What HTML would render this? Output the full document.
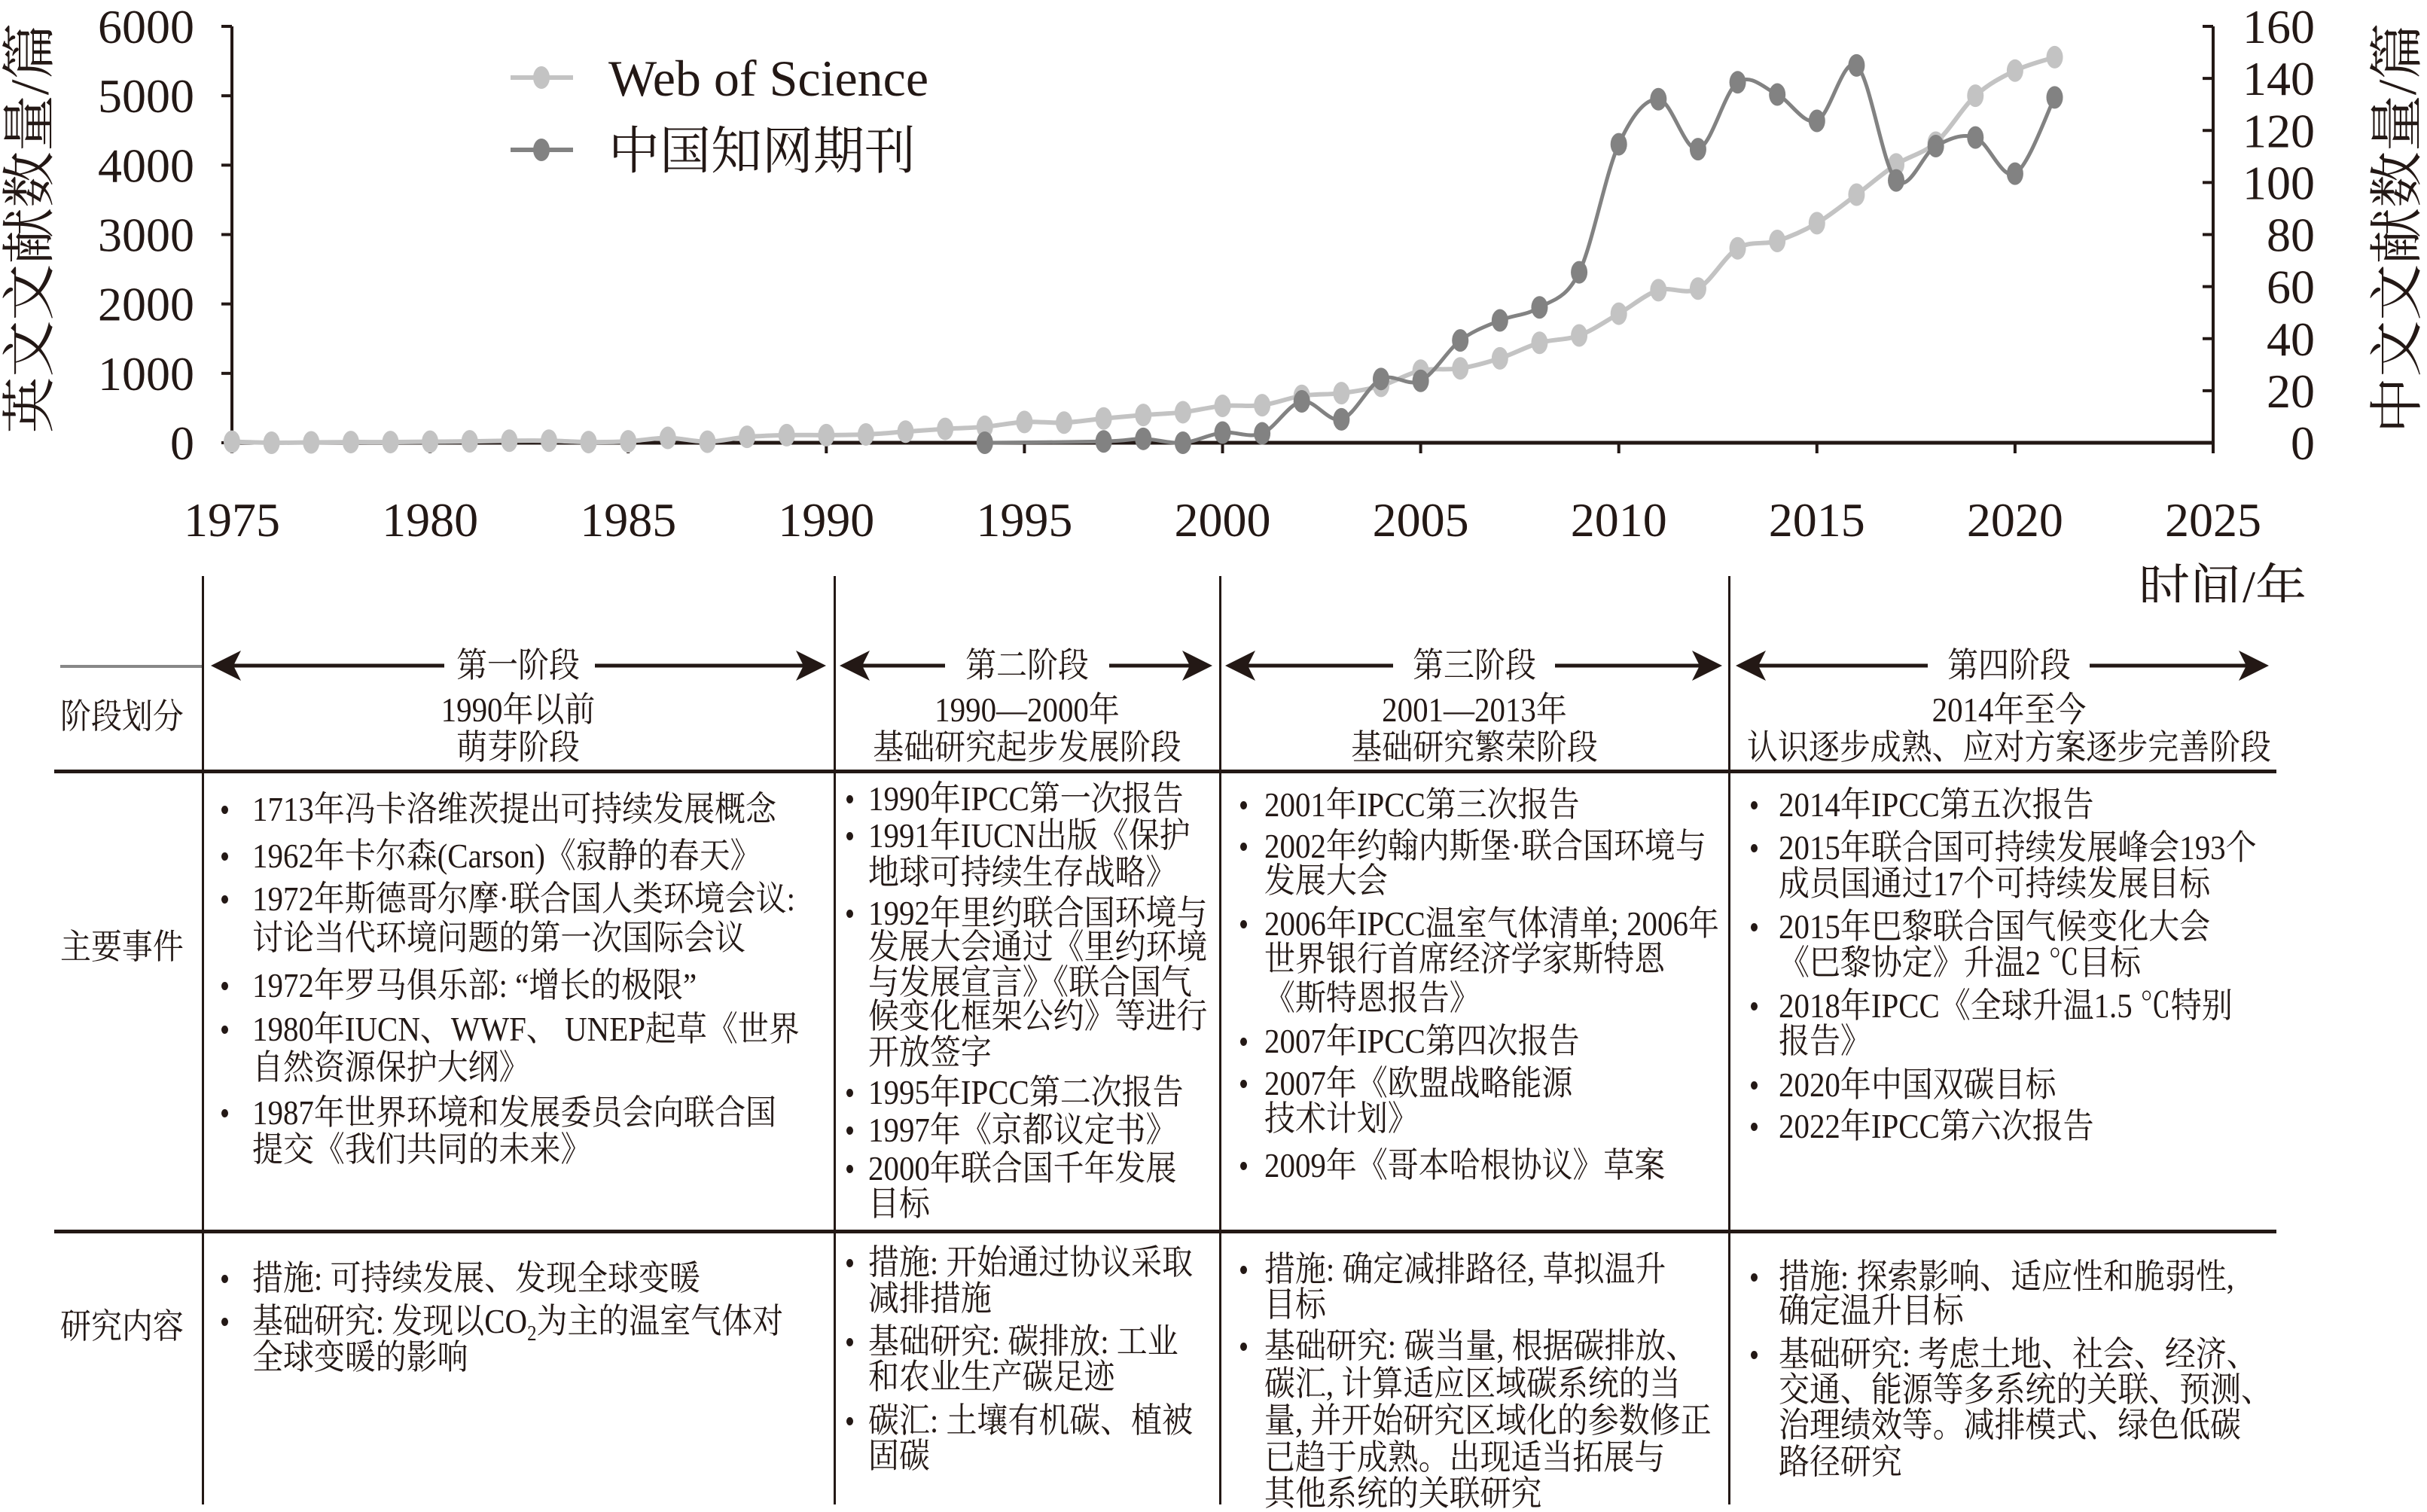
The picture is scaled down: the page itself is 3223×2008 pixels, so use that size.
<!DOCTYPE html>
<html><head><meta charset="utf-8">
<style>
body{margin:0;background:#fff;}
#wrap{position:relative;width:3223px;height:2008px;overflow:hidden;background:#fff;font-family:"Liberation Serif","Noto Serif CJK SC",serif;color:#231815;}
.t{position:absolute;font-size:46px;line-height:46px;white-space:nowrap;transform:scaleX(.89);transform-origin:0 50%;}
.c{position:absolute;font-size:46px;line-height:46px;white-space:nowrap;transform:translateX(-50%) scaleX(.89);}
.b{position:absolute;width:9px;height:11px;border-radius:50%;background:#231815;}
.hl{position:absolute;height:5px;background:#231815;left:72px;width:2951px;}
.vl{position:absolute;width:3px;background:#231815;top:765px;height:1233px;}
svg text{font-family:"Liberation Serif","Noto Serif CJK SC",serif;fill:#231815;}
</style></head><body>
<div id="wrap">
<svg id="chart" width="3223" height="800" style="position:absolute;left:0;top:0">
  <g id="axes"></g>
  <g id="series"></g>
  <g>
    <line x1="678" y1="103" x2="761" y2="103" stroke="#c3c3c3" stroke-width="6"/>
    <ellipse cx="719" cy="103" rx="11" ry="15" fill="#c3c3c3"/>
    <text x="808" y="127" font-size="68">Web of Science</text>
    <line x1="678" y1="199" x2="761" y2="199" stroke="#828282" stroke-width="6"/>
    <ellipse cx="719" cy="199" rx="11" ry="15" fill="#828282"/>
    <text x="808" y="224" font-size="68">中国知网期刊</text>
  </g>
  <text transform="translate(64,303) rotate(-90)" text-anchor="middle" font-size="72" textLength="545" lengthAdjust="spacingAndGlyphs">英文文献数量/篇</text>
  <text transform="translate(3208,303) rotate(-90)" text-anchor="middle" font-size="72" textLength="545" lengthAdjust="spacingAndGlyphs">中文文献数量/篇</text>
  <text x="3063" y="805" text-anchor="end" font-size="68">时间/年</text>
</svg>
<script>
const years=[1975,1976,1977,1978,1979,1980,1981,1982,1983,1984,1985,1986,1987,1988,1989,1990,1991,1992,1993,1994,1995,1996,1997,1998,1999,2000,2001,2002,2003,2004,2005,2006,2007,2008,2009,2010,2011,2012,2013,2014,2015,2016,2017,2018,2019,2020,2021];
const wosValues=[15,0,5,10,10,15,20,30,30,10,20,70,15,85,110,110,120,160,200,230,300,290,350,400,440,531,541,676,715,821,1039,1072,1217,1440,1546,1860,2198,2222,2802,2908,3164,3575,4010,4324,5000,5362,5556];
const cnkiYears=[1994,1997,1998,1999,2000,2001,2002,2003,2004,2005,2006,2007,2008,2009,2010,2011,2012,2013,2014,2015,2016,2017,2018,2019,2020,2021];
const cnkiValues=[0,0.5,1.5,0,3.9,3.6,15.9,9,24.5,23.8,39.3,47,52,65.5,114.7,132,112.8,138.5,133.8,123.7,145,100.8,114,117.3,103.4,132.7];
const xTicks=[1975,1980,1985,1990,1995,2000,2005,2010,2015,2020,2025];
const leftTicks=[0,1000,2000,3000,4000,5000,6000];
const rightTicks=[0,20,40,60,80,100,120,140,160];

const X0=308,X1=2939,Y0=588,YT=35;
function xs(y){return X0+(y-1975)*(X1-X0)/50;}
function yl(v){return Y0-v*(Y0-YT)/6000;}
function yr(v){return Y0-v*(Y0-YT)/160;}
const NS='http://www.w3.org/2000/svg';
const axes=document.getElementById('axes'), series=document.getElementById('series');
function mk(tag,attrs,parent){const e=document.createElementNS(NS,tag);for(const k in attrs)e.setAttribute(k,attrs[k]);parent.appendChild(e);return e;}

let e;
e=mk('line',{x1:X0,y1:YT,x2:X0,y2:Y0,stroke:'#231815','stroke-width':4},axes);


e=mk('line',{x1:X1,y1:YT,x2:X1,y2:Y0,stroke:'#231815','stroke-width':4},axes);


leftTicks.forEach(v=>{
  const t=mk('line',{x1:X0-14,y1:yl(v),x2:X0,y2:yl(v),stroke:'#231815','stroke-width':4},axes);
  
  
  const l=mk('text',{x:258,y:yl(v)+22,'text-anchor':'end','font-size':64},axes);
  l.textContent=v;
  
  
});
rightTicks.forEach(v=>{
  const t=mk('line',{x1:X1-14,y1:yr(v),x2:X1,y2:yr(v),stroke:'#231815','stroke-width':4},axes);
  
  
  const l=mk('text',{x:3074,y:yr(v)+22,'text-anchor':'end','font-size':64},axes);
  l.textContent=v;
  
  
});
xTicks.forEach(y=>{
  const t=mk('line',{x1:xs(y),y1:Y0,x2:xs(y),y2:Y0+14,stroke:'#231815','stroke-width':4},axes);
  
  
  const l=mk('text',{x:xs(y),y:712,'text-anchor':'middle','font-size':64},axes);
  l.textContent=y;
  
  
});
function smooth(pts){
  let d='M'+pts[0][0]+','+pts[0][1];
  for(let i=0;i<pts.length-1;i++){
    const p0=pts[i-1]||pts[i],p1=pts[i],p2=pts[i+1],p3=pts[i+2]||p2;
    const c1=[p1[0]+(p2[0]-p0[0])/6,p1[1]+(p2[1]-p0[1])/6];
    const c2=[p2[0]-(p3[0]-p1[0])/6,p2[1]-(p3[1]-p1[1])/6];
    d+=' C'+c1[0]+','+c1[1]+' '+c2[0]+','+c2[1]+' '+p2[0]+','+p2[1];
  }
  return d;
}
const wosPts=years.map((y,i)=>[xs(y),yl(wosValues[i])]);
e=mk('path',{d:smooth(wosPts),fill:'none',stroke:'#c3c3c3','stroke-width':6},series);


wosPts.forEach(p=>{
  const m=mk('ellipse',{cx:p[0],cy:p[1],rx:11,ry:15,fill:'#c3c3c3'},series);
  
  
});
const cnkiPts=cnkiYears.map((y,i)=>[xs(y),yr(cnkiValues[i])]);
e=mk('path',{d:smooth(cnkiPts),fill:'none',stroke:'#828282','stroke-width':5},series);


cnkiPts.forEach(p=>{
  const m=mk('ellipse',{cx:p[0],cy:p[1],rx:11,ry:15,fill:'#828282'},series);
  
  
});
e=mk('line',{x1:X0,y1:Y0,x2:X1,y2:Y0,stroke:'#231815','stroke-width':5},axes);


</script>

<div>
<div class="vl" style="left:268px"></div>
<div class="vl" style="left:1107px"></div>
<div class="vl" style="left:1619px"></div>
<div class="vl" style="left:2295px"></div>
<div class="hl" style="top:1022px"></div>
<div class="hl" style="top:1633px"></div>
<div style="position:absolute;left:80px;top:883px;width:188px;height:4px;background:#888"></div>

<svg width="3223" height="40" style="position:absolute;left:0;top:864px">
  <defs><marker id="ah" markerWidth="8" markerHeight="8" refX="7" refY="4" orient="auto-start-reverse" markerUnits="strokeWidth"><path d="M0,0 L8,4 L0,8 L2,4 Z" fill="#231815"/></marker></defs>
  <line x1="285" y1="20" x2="590" y2="20" stroke="#231815" stroke-width="5" marker-start="url(#ah)"/>
  <line x1="790" y1="20" x2="1092" y2="20" stroke="#231815" stroke-width="5" marker-end="url(#ah)"/>
  <line x1="1120" y1="20" x2="1255" y2="20" stroke="#231815" stroke-width="5" marker-start="url(#ah)"/>
  <line x1="1473" y1="20" x2="1605" y2="20" stroke="#231815" stroke-width="5" marker-end="url(#ah)"/>
  <line x1="1632" y1="20" x2="1850" y2="20" stroke="#231815" stroke-width="5" marker-start="url(#ah)"/>
  <line x1="2065" y1="20" x2="2282" y2="20" stroke="#231815" stroke-width="5" marker-end="url(#ah)"/>
  <line x1="2310" y1="20" x2="2560" y2="20" stroke="#231815" stroke-width="5" marker-start="url(#ah)"/>
  <line x1="2775" y1="20" x2="3008" y2="20" stroke="#231815" stroke-width="5" marker-end="url(#ah)"/>
</svg>

<div class="t" style="left:80px;top:929px">阶段划分</div>
<div class="t" style="left:80px;top:1235px">主要事件</div>
<div class="t" style="left:80px;top:1739px">研究内容</div>

<div class="c" style="left:688px;top:861px">第一阶段</div>
<div class="c" style="left:688px;top:920px">1990年以前</div>
<div class="c" style="left:688px;top:970px">萌芽阶段</div>
<div class="c" style="left:1364px;top:861px">第二阶段</div>
<div class="c" style="left:1364px;top:920px">1990—2000年</div>
<div class="c" style="left:1364px;top:970px">基础研究起步发展阶段</div>
<div class="c" style="left:1958px;top:861px">第三阶段</div>
<div class="c" style="left:1958px;top:920px">2001—2013年</div>
<div class="c" style="left:1958px;top:970px">基础研究繁荣阶段</div>
<div class="c" style="left:2668px;top:861px">第四阶段</div>
<div class="c" style="left:2668px;top:920px">2014年至今</div>
<div class="c" style="left:2668px;top:970px">认识逐步成熟、应对方案逐步完善阶段</div>

<div>
<div class="b" style="left:294px;top:1070px"></div><div class="t" style="left:335px;top:1052px">1713年冯卡洛维茨提出可持续发展概念</div>
<div class="b" style="left:294px;top:1132px"></div><div class="t" style="left:335px;top:1114px">1962年卡尔森(Carson)《寂静的春天》</div>
<div class="b" style="left:294px;top:1189px"></div><div class="t" style="left:335px;top:1171px">1972年斯德哥尔摩·联合国人类环境会议:</div>
<div class="t" style="left:335px;top:1223px">讨论当代环境问题的第一次国际会议</div>
<div class="b" style="left:294px;top:1304px"></div><div class="t" style="left:335px;top:1286px">1972年罗马俱乐部: “增长的极限”</div>
<div class="b" style="left:294px;top:1362px"></div><div class="t" style="left:335px;top:1344px">1980年IUCN、WWF、 UNEP起草《世界</div>
<div class="t" style="left:335px;top:1395px">自然资源保护大纲》</div>
<div class="b" style="left:294px;top:1473px"></div><div class="t" style="left:335px;top:1455px">1987年世界环境和发展委员会向联合国</div>
<div class="t" style="left:335px;top:1504px">提交《我们共同的未来》</div>
</div>
<div>
<div class="b" style="left:1124px;top:1056px"></div><div class="t" style="left:1153px;top:1038px">1990年IPCC第一次报告</div>
<div class="b" style="left:1124px;top:1105px"></div><div class="t" style="left:1153px;top:1087px">1991年IUCN出版《保护</div>
<div class="t" style="left:1153px;top:1136px">地球可持续生存战略》</div>
<div class="b" style="left:1124px;top:1208px"></div><div class="t" style="left:1153px;top:1190px">1992年里约联合国环境与</div>
<div class="t" style="left:1153px;top:1235px">发展大会通过《里约环境</div>
<div class="t" style="left:1153px;top:1282px">与发展宣言》《联合国气</div>
<div class="t" style="left:1153px;top:1327px">候变化框架公约》等进行</div>
<div class="t" style="left:1153px;top:1375px">开放签字</div>
<div class="b" style="left:1124px;top:1446px"></div><div class="t" style="left:1153px;top:1428px">1995年IPCC第二次报告</div>
<div class="b" style="left:1124px;top:1496px"></div><div class="t" style="left:1153px;top:1478px">1997年《京都议定书》</div>
<div class="b" style="left:1124px;top:1547px"></div><div class="t" style="left:1153px;top:1529px">2000年联合国千年发展</div>
<div class="t" style="left:1153px;top:1576px">目标</div>
</div>
<div>
<div class="b" style="left:1647px;top:1064px"></div><div class="t" style="left:1679px;top:1046px">2001年IPCC第三次报告</div>
<div class="b" style="left:1647px;top:1119px"></div><div class="t" style="left:1679px;top:1101px">2002年约翰内斯堡·联合国环境与</div>
<div class="t" style="left:1679px;top:1147px">发展大会</div>
<div class="b" style="left:1647px;top:1222px"></div><div class="t" style="left:1679px;top:1204px">2006年IPCC温室气体清单; 2006年</div>
<div class="t" style="left:1679px;top:1251px">世界银行首席经济学家斯特恩</div>
<div class="t" style="left:1679px;top:1303px">《斯特恩报告》</div>
<div class="b" style="left:1647px;top:1378px"></div><div class="t" style="left:1679px;top:1360px">2007年IPCC第四次报告</div>
<div class="b" style="left:1647px;top:1434px"></div><div class="t" style="left:1679px;top:1416px">2007年《欧盟战略能源</div>
<div class="t" style="left:1679px;top:1463px">技术计划》</div>
<div class="b" style="left:1647px;top:1543px"></div><div class="t" style="left:1679px;top:1525px">2009年《哥本哈根协议》草案</div>
</div>
<div>
<div class="b" style="left:2325px;top:1064px"></div><div class="t" style="left:2362px;top:1046px">2014年IPCC第五次报告</div>
<div class="b" style="left:2325px;top:1121px"></div><div class="t" style="left:2362px;top:1103px">2015年联合国可持续发展峰会193个</div>
<div class="t" style="left:2362px;top:1151px">成员国通过17个可持续发展目标</div>
<div class="b" style="left:2325px;top:1226px"></div><div class="t" style="left:2362px;top:1208px">2015年巴黎联合国气候变化大会</div>
<div class="t" style="left:2362px;top:1256px">《巴黎协定》升温2 ℃目标</div>
<div class="b" style="left:2325px;top:1331px"></div><div class="t" style="left:2362px;top:1313px">2018年IPCC《全球升温1.5 ℃特别</div>
<div class="t" style="left:2362px;top:1360px">报告》</div>
<div class="b" style="left:2325px;top:1436px"></div><div class="t" style="left:2362px;top:1418px">2020年中国双碳目标</div>
<div class="b" style="left:2325px;top:1491px"></div><div class="t" style="left:2362px;top:1473px">2022年IPCC第六次报告</div>
</div>

<div>
<div class="b" style="left:294px;top:1693px"></div><div class="t" style="left:335px;top:1675px">措施: 可持续发展、发现全球变暖</div>
<div class="b" style="left:294px;top:1750px"></div><div class="t" style="left:335px;top:1732px">基础研究: 发现以CO<sub style="font-size:28px">2</sub>为主的温室气体对</div>
<div class="t" style="left:335px;top:1780px">全球变暖的影响</div>
</div>
<div>
<div class="b" style="left:1124px;top:1672px"></div><div class="t" style="left:1153px;top:1654px">措施: 开始通过协议采取</div>
<div class="t" style="left:1153px;top:1702px">减排措施</div>
<div class="b" style="left:1124px;top:1777px"></div><div class="t" style="left:1153px;top:1759px">基础研究: 碳排放: 工业</div>
<div class="t" style="left:1153px;top:1806px">和农业生产碳足迹</div>
<div class="b" style="left:1124px;top:1882px"></div><div class="t" style="left:1153px;top:1864px">碳汇: 土壤有机碳、植被</div>
<div class="t" style="left:1153px;top:1911px">固碳</div>
</div>
<div>
<div class="b" style="left:1647px;top:1681px"></div><div class="t" style="left:1679px;top:1663px">措施: 确定减排路径, 草拟温升</div>
<div class="t" style="left:1679px;top:1710px">目标</div>
<div class="b" style="left:1647px;top:1783px"></div><div class="t" style="left:1679px;top:1765px">基础研究: 碳当量, 根据碳排放、</div>
<div class="t" style="left:1679px;top:1815px">碳汇, 计算适应区域碳系统的当</div>
<div class="t" style="left:1679px;top:1864px">量, 并开始研究区域化的参数修正</div>
<div class="t" style="left:1679px;top:1913px">已趋于成熟。出现适当拓展与</div>
<div class="t" style="left:1679px;top:1961px">其他系统的关联研究</div>
</div>
<div>
<div class="b" style="left:2325px;top:1691px"></div><div class="t" style="left:2362px;top:1673px">措施: 探索影响、适应性和脆弱性,</div>
<div class="t" style="left:2362px;top:1718px">确定温升目标</div>
<div class="b" style="left:2325px;top:1794px"></div><div class="t" style="left:2362px;top:1776px">基础研究: 考虑土地、社会、经济、</div>
<div class="t" style="left:2362px;top:1823px">交通、能源等多系统的关联、预测、</div>
<div class="t" style="left:2362px;top:1870px">治理绩效等。减排模式、绿色低碳</div>
<div class="t" style="left:2362px;top:1919px">路径研究</div>
</div>
</div>
</div>
</body></html>
